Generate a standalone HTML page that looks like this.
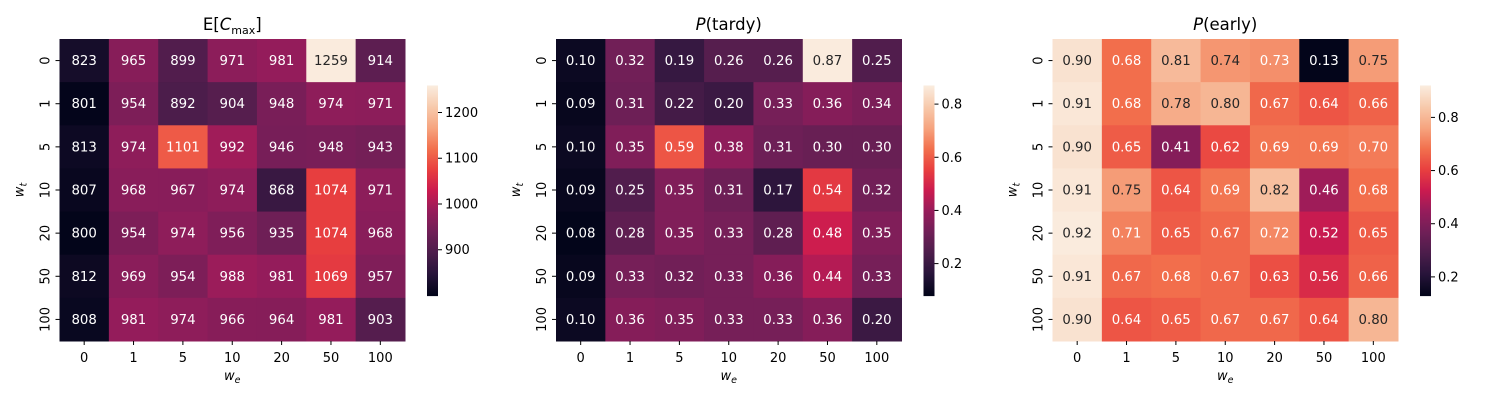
<!DOCTYPE html>
<html><head><meta charset="utf-8"><style>
body{margin:0;background:#fff;}
svg{display:block;font-family:"DejaVu Sans","Liberation Sans",sans-serif;}
</style></head><body>
<svg id="fig" width="1500" height="400" viewBox="0 0 1500 400" xmlns="http://www.w3.org/2000/svg"></svg>
<script>
const rowLabels = ["0","1","5","10","20","50","100"];
const colLabels = ["0","1","5","10","20","50","100"];
const cmaxValues = [
 [823,965,899,971,981,1259,914],
 [801,954,892,904,948,974,971],
 [813,974,1101,992,946,948,943],
 [807,968,967,974,868,1074,971],
 [800,954,974,956,935,1074,968],
 [812,969,954,988,981,1069,957],
 [808,981,974,966,964,981,903]];
const tardyValues = [
 [0.10,0.32,0.19,0.26,0.26,0.87,0.25],
 [0.09,0.31,0.22,0.20,0.33,0.36,0.34],
 [0.10,0.35,0.59,0.38,0.31,0.30,0.30],
 [0.09,0.25,0.35,0.31,0.17,0.54,0.32],
 [0.08,0.28,0.35,0.33,0.28,0.48,0.35],
 [0.09,0.33,0.32,0.33,0.36,0.44,0.33],
 [0.10,0.36,0.35,0.33,0.33,0.36,0.20]];
const earlyValues = [
 [0.90,0.68,0.81,0.74,0.73,0.13,0.75],
 [0.91,0.68,0.78,0.80,0.67,0.64,0.66],
 [0.90,0.65,0.41,0.62,0.69,0.69,0.70],
 [0.91,0.75,0.64,0.69,0.82,0.46,0.68],
 [0.92,0.71,0.65,0.67,0.72,0.52,0.65],
 [0.91,0.67,0.68,0.67,0.63,0.56,0.66],
 [0.90,0.64,0.65,0.67,0.67,0.64,0.80]];
const cmaxTicks = [900,1000,1100,1200];
const tardyTicks = [0.2,0.4,0.6,0.8];
const earlyTicks = [0.2,0.4,0.6,0.8];

const stops=[[0,"#03051a"],[0.1,"#28143a"],[0.2,"#4c1d4b"],[0.3,"#701f57"],[0.4,"#961c5b"],[0.5,"#cb1b4f"],[0.6,"#e83f3f"],[0.7,"#f2704d"],[0.8,"#f6a47f"],[0.9,"#f7c9ab"],[1,"#faebdd"]];
function hex(h){return [1,3,5].map(i=>parseInt(h.substr(i,2),16));}
function cmap(t){t=Math.max(0,Math.min(1,t));for(let i=1;i<stops.length;i++){if(t<=stops[i][0]){const a=stops[i-1],b=stops[i];const f=(t-a[0])/(b[0]-a[0]);const ca=hex(a[1]),cb=hex(b[1]);return ca.map((v,k)=>Math.round(v+(cb[k]-v)*f));}}return hex(stops[stops.length-1][1]);}
function lum(c){const l=c.map(v=>{v/=255;return v<=0.03928?v/12.92:Math.pow((v+0.055)/1.055,2.4);});return 0.2126*l[0]+0.7152*l[1]+0.0722*l[2];}
const NS="http://www.w3.org/2000/svg";
const svg=document.getElementById('fig');
function el(tag,attrs,parent,text){const e=document.createElementNS(NS,tag);for(const k in attrs)e.setAttribute(k,attrs[k]);if(text!==undefined)e.textContent=text;(parent||svg).appendChild(e);return e;}

function heatmap(x0,values,ticks,fmt,tfmt,titleHTML,name){
 const g=el('g',{},svg);
 
 
 const W=345.5,H=302,y0=39,cw=W/colLabels.length,ch=H/rowLabels.length;
 const flat=values.flat();const vmin=Math.min(...flat),vmax=Math.max(...flat);
 const xs=i=>x0+i*cw, ys=j=>y0+j*ch;
 values.forEach((row,j)=>row.forEach((v,i)=>{
  const c=cmap((v-vmin)/(vmax-vmin));
  const r=el('rect',{x:xs(i),y:ys(j),width:cw+0.5,height:ch+0.5,fill:`rgb(${c})`},g);
  
  
  const t=el('text',{x:xs(i)+cw/2,y:ys(j)+ch/2+4.5,'text-anchor':'middle','font-size':13.3,fill:lum(c)>0.408?'#262626':'#ffffff'},g,fmt(v));
  
  
 }));
 colLabels.forEach((l,i)=>{
  el('line',{x1:xs(i)+cw/2,x2:xs(i)+cw/2,y1:y0+H,y2:y0+H+4,stroke:'#000'},g);
  const t=el('text',{x:xs(i)+cw/2,y:y0+H+21,'text-anchor':'middle','font-size':13},g,l);
  
  
 });
 rowLabels.forEach((l,j)=>{
  el('line',{x1:x0-4,x2:x0,y1:ys(j)+ch/2,y2:ys(j)+ch/2,stroke:'#000'},g);
  const t=el('text',{x:0,y:0,'text-anchor':'middle','font-size':13,transform:`translate(${x0-10},${ys(j)+ch/2}) rotate(-90)`},g,l);
  
  
 });
 const xl=el('text',{x:x0+W/2,y:380,'text-anchor':'middle','font-size':13,'font-style':'italic'},g);
 xl.innerHTML='w<tspan font-size="9.5" dy="3">e</tspan>';
 
 
 const yl=el('text',{x:0,y:0,'text-anchor':'middle','font-size':13,'font-style':'italic',transform:`translate(${x0-36},${y0+H/2}) rotate(-90)`},g);
 yl.innerHTML='w<tspan font-size="9.5" dy="3">t</tspan>';
 
 
 const tt=el('text',{x:x0+W/2,y:30,'text-anchor':'middle','font-size':16.5},g);
 tt.innerHTML=titleHTML;
 
 
 const cx=x0+367.5,cy0=85.5,cH=210,cW=11;
 const cb=el('g',{},g);
 
 
 for(let k=0;k<105;k++){const c=cmap(1-k/104);el('rect',{x:cx,y:cy0+k*cH/105,width:cW,height:cH/105+0.6,fill:`rgb(${c})`},cb);}
 const cyv=v=>cy0+cH*(1-(v-vmin)/(vmax-vmin));
 ticks.forEach(v=>{
  el('line',{x1:cx+cW,x2:cx+cW+4,y1:cyv(v),y2:cyv(v),stroke:'#000'},cb);
  const t=el('text',{x:cx+cW+7,y:cyv(v)+4.5,'font-size':13},cb,tfmt(v));
  
  
 });
}
heatmap(59.5,cmaxValues,cmaxTicks,v=>String(v),v=>String(v),'E[<tspan font-style="italic">C</tspan><tspan font-size="11" dy="4">max</tspan><tspan dy="-4">]</tspan>','heatmap-cmax');
heatmap(556,tardyValues,tardyTicks,v=>v.toFixed(2),v=>v.toFixed(1),'<tspan font-style="italic">P</tspan>(tardy)','heatmap-tardy');
heatmap(1052.5,earlyValues,earlyTicks,v=>v.toFixed(2),v=>v.toFixed(1),'<tspan font-style="italic">P</tspan>(early)','heatmap-early');
</script>
</body></html>
